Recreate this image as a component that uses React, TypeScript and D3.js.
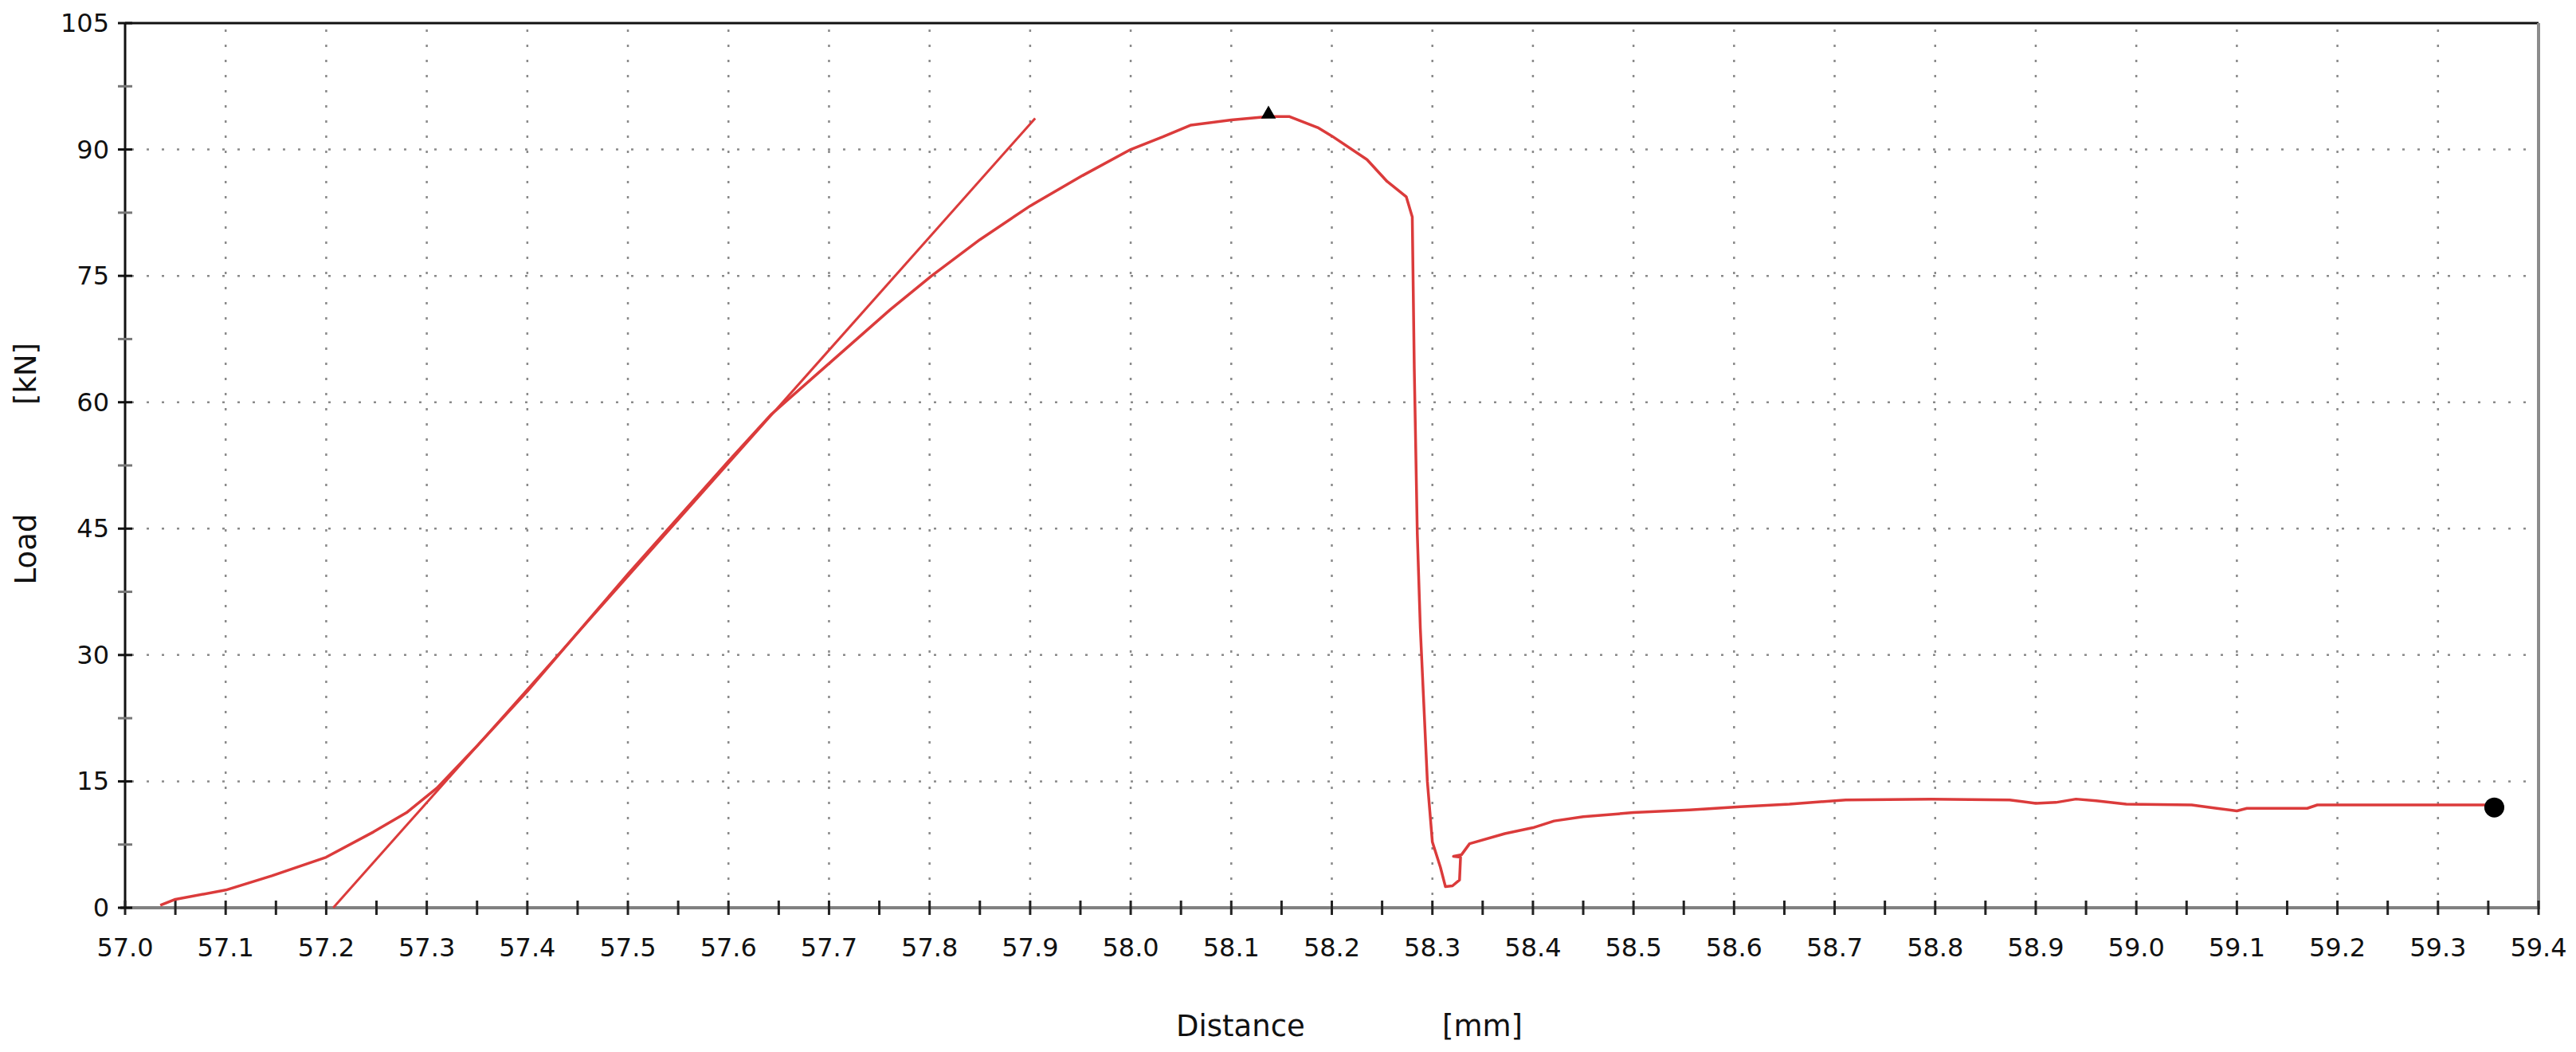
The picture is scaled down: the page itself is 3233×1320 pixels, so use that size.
import * as d3 from "d3";
import { useEffect, useRef } from "react";

// main load/distance curve
const distance = [
  57.035, 57.05, 57.1, 57.146, 57.2, 57.247, 57.28, 57.31, 57.35, 57.4, 57.5, 57.6, 57.642,
  57.7, 57.761, 57.802, 57.85, 57.9, 57.952, 58.0, 58.032, 58.06, 58.1, 58.137, 58.158,
  58.186, 58.2, 58.235, 58.255, 58.274, 58.28, 58.282, 58.285, 58.288, 58.291,
  58.295, 58.3, 58.308, 58.313, 58.32, 58.327, 58.328, 58.321, 58.329, 58.337,
  58.372, 58.4, 58.421, 58.45, 58.5, 58.556, 58.606, 58.655, 58.711, 58.796,
  58.874, 58.9, 58.92, 58.94, 58.96, 58.99, 59.055, 59.08, 59.1, 59.11, 59.17,
  59.18, 59.356,
];
const load = [
  0.3, 1.0, 2.1, 3.8, 6.0, 9.0, 11.3, 14.2, 19.2, 25.7, 39.6, 53.0, 58.5,
  64.6, 71.0, 75.0, 79.3, 83.3, 86.9, 90.0, 91.5, 92.9, 93.5, 93.9, 93.9,
  92.6, 91.6, 88.8, 86.2, 84.4, 82.0, 64.0, 44.4, 33.2, 25.4,
  15.0, 7.8, 4.8, 2.5, 2.6, 3.3, 6.0, 6.1, 6.3, 7.6,
  8.8, 9.5, 10.3, 10.8, 11.3, 11.6, 12.0, 12.3, 12.8, 12.9,
  12.8, 12.4, 12.5, 12.9, 12.7, 12.3, 12.2, 11.8, 11.5, 11.8, 11.8,
  12.2, 12.2,
];

// modulus (tangent) line
const tangentX = [57.207, 57.905];
const tangentY = [0, 93.7];

// markers
const peak = { x: 58.137, y: 94.0 };
const breakPoint = { x: 59.356, y: 11.9 };

const xTicks = d3.range(0, 25).map(i => 57 + i * 0.1);
const xMinor = d3.range(0, 49).map(i => 57 + i * 0.05);
const yTicks = [0, 15, 30, 45, 60, 75, 90, 105];
const yMinor = d3.range(0, 15).map(i => i * 7.5);

export default function App() {
  const ref = useRef<SVGSVGElement>(null);

  useEffect(() => {
    const svg = d3.select(ref.current);
    svg.selectAll("*").remove();

    const width = 3233;
    const height = 1320;
    const left = 157, right = 3186, top = 29, bottom = 1139;
    const font = "'DejaVu Sans', Verdana, sans-serif";

    svg.attr("width", width).attr("height", height);

    const x = d3.scaleLinear().domain([57, 59.4]).range([left, right]);
    const y = d3.scaleLinear().domain([0, 105]).range([bottom, top]);

    svg.append("rect").attr("width", width).attr("height", height).attr("fill", "#fff");

    // dotted grid
    const grid = svg.append("g").attr("stroke", "#8a8a8a").attr("stroke-width", 2.5)
      .attr("stroke-dasharray", "3,16");
    grid.selectAll(".gx")
      .data(xTicks.slice(1, -1))
      .enter()
      .append("line")
      .attr("x1", d => x(d)).attr("x2", d => x(d))
      .attr("y1", top + 8).attr("y2", bottom);
    grid.selectAll(".gy")
      .data(yTicks.slice(1, -1))
      .enter()
      .append("line")
      .attr("x1", left + 8).attr("x2", right)
      .attr("y1", d => y(d)).attr("y2", d => y(d));

    // frame
    svg.append("line").attr("x1", left).attr("x2", right).attr("y1", top).attr("y2", top)
      .attr("stroke", "#111").attr("stroke-width", 3);
    svg.append("line").attr("x1", right).attr("x2", right).attr("y1", top).attr("y2", bottom)
      .attr("stroke", "#8c8c8c").attr("stroke-width", 4);
    svg.append("line").attr("x1", left - 6).attr("x2", right + 2).attr("y1", bottom).attr("y2", bottom)
      .attr("stroke", "#808080").attr("stroke-width", 4);
    svg.append("line").attr("x1", left).attr("x2", left).attr("y1", top).attr("y2", bottom)
      .attr("stroke", "#111").attr("stroke-width", 3);

    // ticks
    svg.append("g").selectAll("line")
      .data(xMinor)
      .enter()
      .append("line")
      .attr("x1", d => x(d)).attr("x2", d => x(d))
      .attr("y1", bottom - 9).attr("y2", bottom + 9)
      .attr("stroke", "#222").attr("stroke-width", 3);
    svg.append("g").selectAll("line")
      .data(yMinor)
      .enter()
      .append("line")
      .attr("x1", left - 9).attr("x2", left + 9)
      .attr("y1", d => y(d)).attr("y2", d => y(d))
      .attr("stroke", (d, i) => (i % 2 ? "#777" : "#111")).attr("stroke-width", 3);

    // tick labels
    svg.append("g").selectAll("text")
      .data(xTicks)
      .enter()
      .append("text")
      .attr("x", d => x(d))
      .attr("y", 1200)
      .attr("text-anchor", "middle")
      .style("font-family", font)
      .style("font-size", "32px")
      .attr("fill", "#111")
      .text(d => d.toFixed(1));
    svg.append("g").selectAll("text")
      .data(yTicks)
      .enter()
      .append("text")
      .attr("x", left - 20)
      .attr("y", d => y(d) + 11)
      .attr("text-anchor", "end")
      .style("font-family", font)
      .style("font-size", "32px")
      .attr("fill", "#111")
      .text(d => d);

    // axis titles
    const title = (t: string, tx: number, ty: number, rot: boolean) => {
      svg.append("text")
        .attr("transform", rot ? `translate(${tx},${ty}) rotate(-90)` : `translate(${tx},${ty})`)
        .attr("text-anchor", rot ? "middle" : "start")
        .style("font-family", font)
        .style("font-size", "37px")
        .attr("fill", "#111")
        .text(t);
    };
    title("Distance", 1476, 1300, false);
    title("[mm]", 1810, 1300, false);
    title("Load", 45, 689, true);
    title("[kN]", 45, 469, true);

    // tangent line
    const line = d3.line<number>()
      .x((d, i) => x(tangentX[i]))
      .y(d => y(d));
    svg.append("path")
      .attr("d", line(tangentY))
      .attr("fill", "none")
      .attr("stroke", "#db3b3b")
      .attr("stroke-width", 3);

    // main curve
    const curve = d3.line<number>()
      .x((d, i) => x(distance[i]))
      .y(d => y(d));
    svg.append("path")
      .attr("d", curve(load))
      .attr("fill", "none")
      .attr("stroke", "#db3b3b")
      .attr("stroke-width", 3.5)
      .attr("stroke-linejoin", "round");

    // peak marker
    svg.append("path")
      .attr("d", d3.symbol(d3.symbolTriangle, 150)())
      .attr("transform", `translate(${x(peak.x)},${y(peak.y) - 2})`)
      .attr("fill", "#000");

    // end marker
    svg.append("circle")
      .attr("cx", x(breakPoint.x))
      .attr("cy", y(breakPoint.y))
      .attr("r", 12.5)
      .attr("fill", "#000");
  }, []);

  return (
    <div style={{ position: "absolute", left: 0, top: 0 }}>
      <svg ref={ref} style={{ display: "block" }} />
    </div>
  );
}
